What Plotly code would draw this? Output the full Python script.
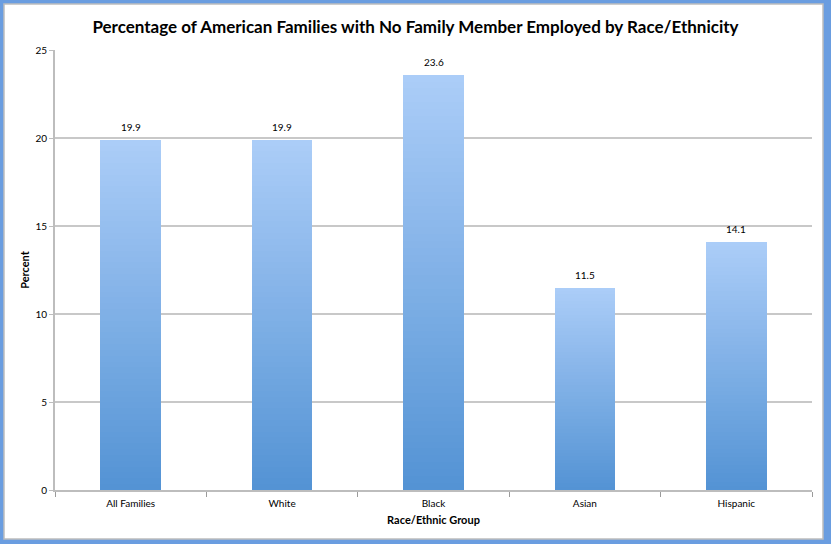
import plotly.graph_objects as go

categories = ["All Families", "White", "Black", "Asian", "Hispanic"]
values = [19.9, 19.9, 23.6, 11.5, 14.1]
value_labels = ["19.9", "19.9", "23.6", "11.5", "14.1"]
y_ticks = [0, 5, 10, 15, 20, 25]

W, H = 831, 544
ML, MR, MT, MB = 55, 19, 50, 54
PW, PH = W - ML - MR, H - MT - MB

def px_x(p):
    return (p - ML) / PW

def px_y(p):
    return (H - MB - p) / PH

# gradient via stacked segments
N = 60
bottom = (0x53, 0x93, 0xd4)
top = (0xac, 0xcd, 0xf8)

fig = go.Figure()
for k in range(N):
    t = (k + 0.5) / N
    c = tuple(round(bottom[i] + (top[i] - bottom[i]) * t) for i in range(3))
    fig.add_trace(go.Bar(
        x=categories,
        y=[v / N for v in values],
        marker=dict(color="rgb(%d,%d,%d)" % c, line=dict(width=0)),
        width=0.4,
        showlegend=False,
        hoverinfo="skip",
    ))

annotations = [
    dict(x=c, y=v, text=lab, showarrow=False, yanchor="bottom", yshift=5,
         font=dict(family="Lato", size=10, color="#000"))
    for c, v, lab in zip(categories, values, value_labels)
]

shapes = [
    dict(type="rect", xref="paper", yref="paper", layer="below",
         x0=px_x(4), x1=px_x(823), y0=px_y(539), y1=px_y(4),
         fillcolor="white", line=dict(color="#bdbdbd", width=1.5)),
]

fig.update_layout(
    width=W, height=H,
    margin=dict(l=ML, r=MR, t=MT, b=MB, autoexpand=False),
    paper_bgcolor="#6a9de0",
    plot_bgcolor="rgba(0,0,0,0)",
    barmode="stack",
    bargap=0.6,
    shapes=shapes,
    annotations=annotations,
    title=dict(
        text="<b>Percentage of American Families with No Family Member Employed by Race/Ethnicity</b>",
        x=0.5, xref="container", xanchor="center",
        y=1 - 27 / H, yanchor="middle",
        font=dict(family="Lato", size=17, color="#000"),
    ),
    font=dict(family="Lato", size=10, color="#000"),
    xaxis=dict(
        tickson="boundaries", ticks="outside", ticklen=5, tickcolor="#9a9a9a",
        tickwidth=1, showgrid=False, showline=True, linecolor="#bdbdbd", linewidth=2,
        tickfont=dict(family="Lato", size=10), ticklabelstandoff=3,
        title=dict(text="<b>Race/Ethnic Group</b>", font=dict(family="Lato", size=11), standoff=8),
    ),
    yaxis=dict(
        range=[0, 25], tickvals=y_ticks, ticks="outside", ticklen=4, tickcolor="#bdbdbd",
        showgrid=True, gridcolor="#c8c8c8", gridwidth=2,
        showline=True, linecolor="#bdbdbd", linewidth=2, zeroline=False,
        tickfont=dict(family="Lato", size=10),
        title=dict(text="<b>Percent</b>", font=dict(family="Lato", size=11), standoff=4),
    ),
)

fig.write_html(
    "out.html",
    config={"displayModeBar": False},
    post_script="document.body.style.margin='0';document.body.style.padding='0';",
)
